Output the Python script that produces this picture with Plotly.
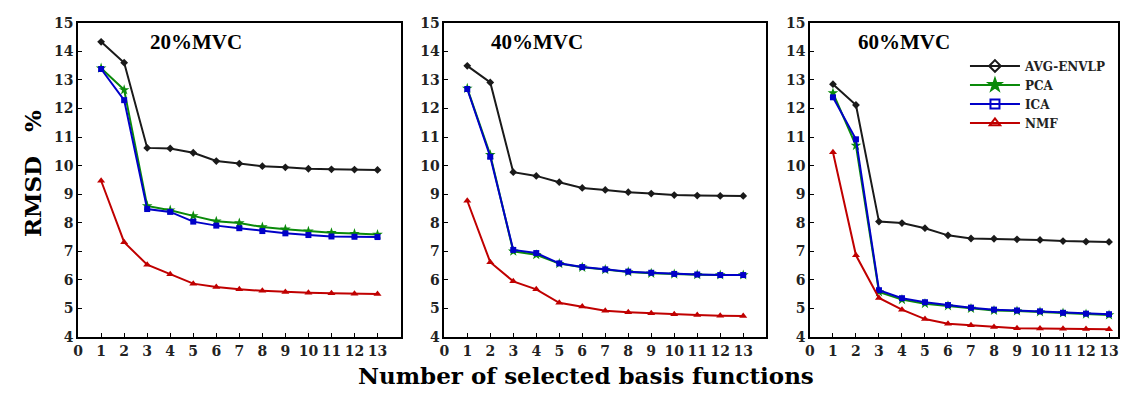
import plotly.graph_objects as go

x = list(range(1, 14))
panels = ["20%MVC", "40%MVC", "60%MVC"]
series_names = ["AVG-ENVLP", "PCA", "ICA", "NMF"]

avg_20 = [14.33, 13.60, 10.62, 10.60, 10.45, 10.16, 10.07, 9.98, 9.94, 9.89, 9.87, 9.86, 9.85]
pca_20 = [13.41, 12.65, 8.59, 8.44, 8.24, 8.05, 7.99, 7.85, 7.77, 7.70, 7.65, 7.62, 7.59]
ica_20 = [13.38, 12.29, 8.48, 8.38, 8.04, 7.90, 7.81, 7.71, 7.63, 7.57, 7.52, 7.51, 7.50]
nmf_20 = [9.47, 7.32, 6.53, 6.20, 5.87, 5.75, 5.67, 5.62, 5.58, 5.55, 5.53, 5.52, 5.51]

avg_40 = [13.49, 12.91, 9.77, 9.64, 9.42, 9.22, 9.15, 9.07, 9.02, 8.97, 8.95, 8.94, 8.94]
pca_40 = [12.70, 10.38, 7.00, 6.88, 6.57, 6.44, 6.36, 6.28, 6.23, 6.20, 6.18, 6.17, 6.17]
ica_40 = [12.68, 10.31, 7.05, 6.94, 6.58, 6.45, 6.37, 6.29, 6.25, 6.21, 6.19, 6.17, 6.17]
nmf_40 = [8.77, 6.62, 5.95, 5.67, 5.20, 5.07, 4.92, 4.87, 4.83, 4.80, 4.77, 4.75, 4.74]

avg_60 = [12.85, 12.12, 8.04, 7.99, 7.81, 7.56, 7.45, 7.44, 7.42, 7.40, 7.36, 7.34, 7.33]
pca_60 = [12.54, 10.70, 5.58, 5.31, 5.17, 5.09, 5.00, 4.93, 4.91, 4.88, 4.84, 4.80, 4.77]
ica_60 = [12.39, 10.92, 5.64, 5.36, 5.22, 5.12, 5.03, 4.96, 4.93, 4.90, 4.85, 4.82, 4.80]
nmf_60 = [10.47, 6.86, 5.37, 4.96, 4.63, 4.47, 4.41, 4.35, 4.31, 4.30, 4.29, 4.28, 4.27]

data = [
    [avg_20, pca_20, ica_20, nmf_20],
    [avg_40, pca_40, ica_40, nmf_40],
    [avg_60, pca_60, ica_60, nmf_60],
]

x_ticks = list(range(0, 14))
y_ticks = list(range(4, 16))

colors = ["#1a1a1a", "#0a8a0a", "#0000c8", "#c00000"]
plot_symbols = ["diamond", "star", "square", "triangle-up"]
plot_sizes = [6, 8, 6, 7]
legend_symbols = ["diamond-open", "star", "square-open", "triangle-up-open"]

SERIF = "Liberation Serif"
SERIF_W = "DejaVu Serif"
OFF = 8  # default page body margin on every side
W, H = 1128 - 2 * OFF, 401 - 2 * OFF


def px(X):
    return (X - OFF) / W


def py(Y):
    return 1 - (Y - OFF) / H


x_doms = [(73.5, 398), (442, 766), (810, 1120)]
x_ranges = [[0, 14], [0, 14], [0, 13.39]]
y_dom = [py(343), py(15)]

fig = go.Figure()

for p in range(3):
    xa = "x" if p == 0 else f"x{p+1}"
    ya = "y" if p == 0 else f"y{p+1}"
    for s in range(4):
        fig.add_trace(go.Scatter(
            x=x, y=data[p][s], mode="lines+markers",
            line=dict(color=colors[s], width=2),
            marker=dict(symbol=plot_symbols[s], size=plot_sizes[s], color=colors[s]),
            showlegend=False, xaxis=xa, yaxis=ya, cliponaxis=False,
        ))

for s in range(4):
    fig.add_trace(go.Scatter(
        x=[None], y=[None], mode="lines+markers", name=series_names[s],
        line=dict(color=colors[s], width=2),
        marker=dict(symbol=legend_symbols[s], size=9, color=colors[s], line=dict(width=2, color=colors[s])),
        showlegend=True, xaxis="x3", yaxis="y3",
    ))

axis_common = dict(
    showline=True, mirror=True, linecolor="black", linewidth=1.5,
    ticks="inside", ticklen=4, tickcolor="black", tickwidth=1.2,
    showgrid=False, zeroline=False, ticklabeloverflow="allow",
    tickfont=dict(family=SERIF_W, size=14, color="#222", weight="bold"),
)

layout = dict(
    width=W, height=H,
    margin=dict(l=0, r=0, t=0, b=0),
    plot_bgcolor="white", paper_bgcolor="white",
    legend=dict(
        x=px(966), y=py(45), xanchor="left", yanchor="top",
        font=dict(family=SERIF_W, size=12, color="#222", weight="bold"),
        bgcolor="rgba(0,0,0,0)", tracegroupgap=0, itemwidth=50,
    ),
)

for p in range(3):
    xk = "xaxis" if p == 0 else f"xaxis{p+1}"
    yk = "yaxis" if p == 0 else f"yaxis{p+1}"
    layout[xk] = dict(axis_common, domain=[px(x_doms[p][0]), min(px(x_doms[p][1]), 1.0)],
                      range=x_ranges[p], tickmode="array", tickvals=x_ticks,
                      ticktext=[str(v) for v in x_ticks],
                      anchor="y" if p == 0 else f"y{p+1}")
    layout[yk] = dict(axis_common, domain=y_dom, range=[4, 15],
                      tickmode="array", tickvals=y_ticks,
                      ticktext=[str(v) for v in y_ticks],
                      anchor="x" if p == 0 else f"x{p+1}")

fig.update_layout(**layout)

title_centers = [192, 535, 905]
for p in range(3):
    fig.add_annotation(
        text=panels[p], x=px(title_centers[p]), y=py(35), xref="paper", yref="paper",
        showarrow=False, xanchor="center", yanchor="middle",
        font=dict(family=SERIF, size=21, color="black", weight="bold"),
    )

fig.add_annotation(
    text="Number of selected basis functions", x=px(585), y=py(383),
    xref="paper", yref="paper", showarrow=False, xanchor="center", yanchor="middle",
    font=dict(family=SERIF_W, size=23, color="black", weight="bold"),
)
fig.add_annotation(
    text="RMSD\u00a0\u00a0\u00a0%", x=px(27), y=py(172), xref="paper", yref="paper",
    showarrow=False, xanchor="center", yanchor="middle", textangle=-90,
    font=dict(family=SERIF_W, size=23, color="black", weight="bold"),
)

fig.write_html("out.html", config={"displayModeBar": False})
